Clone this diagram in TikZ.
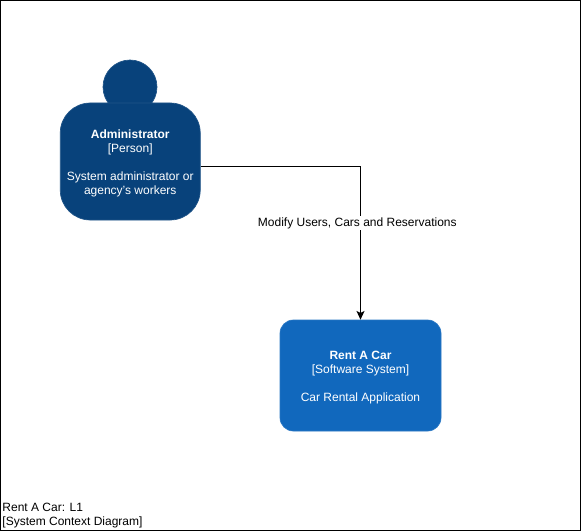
\documentclass[tikz,border=0pt]{standalone}
\usepackage{fontspec}
\setmainfont{Liberation Sans}
\definecolor{personblue}{HTML}{08427B}
\definecolor{systemblue}{HTML}{1168BD}
\newcommand{\lowerstrut}{\rule{0pt}{9.5pt}}
\tikzset{
  txt/.style={font=\fontsize{9}{10.5}\selectfont, align=center, text=white, inner sep=0pt},
  personbody/.style={fill=personblue, draw=personblue!90!white, line width=0.5pt, rounded corners=22.5pt, minimum width=105pt, minimum height=87.75pt, txt},
  personhead/.style={circle, fill=personblue, draw=personblue!90!white, line width=0.5pt, minimum size=40.5pt, inner sep=0pt},
  systembox/.style={fill=systemblue, draw=systemblue!90!white, line width=0.5pt, rounded corners=10pt, minimum width=120.75pt, minimum height=83.25pt, txt},
  conn/.style={draw=black, line width=0.75pt, -{Stealth[length=6.5pt,width=6pt,inset=1.5pt]}},
  connlabel/.style={font=\fontsize{9}{10.5}\selectfont, fill=white, text=black, inner sep=0.75pt},
  captiontxt/.style={font=\fontsize{9}{10.5}\selectfont, align=left, text=black, inner sep=0pt, anchor=south west}
}
\usetikzlibrary{arrows.meta}
\begin{document}
\begin{tikzpicture}[x=0.75pt,y=-0.75pt]
\useasboundingbox (0,0) rectangle (581,531);
\draw[black, line width=0.75pt] (0.5,0.5) rectangle (580.5,530.5);
\node[personhead] (head) at (130,87) {};
\node[personbody] (admin) at (130.25,161.5) {\lowerstrut\textbf{Administrator}\\{}[Person]\\[10.5pt]System administrator or\\agency's workers};
\node[systembox] (rent) at (360.5,375.5) {\lowerstrut\textbf{Rent A Car}\\{}[Software System]\\[10.5pt]Car Rental Application};
\draw[conn] ([yshift=-4.1pt]admin.east) -| (rent.north);
\node[connlabel] (lbl) at (357.3,223) {Modify Users, Cars and Reservations};
\node[captiontxt] (cap) at (2.2,528.3) {Rent A Car: L1\\{}[System Context Diagram]};
\end{tikzpicture}
\end{document}
